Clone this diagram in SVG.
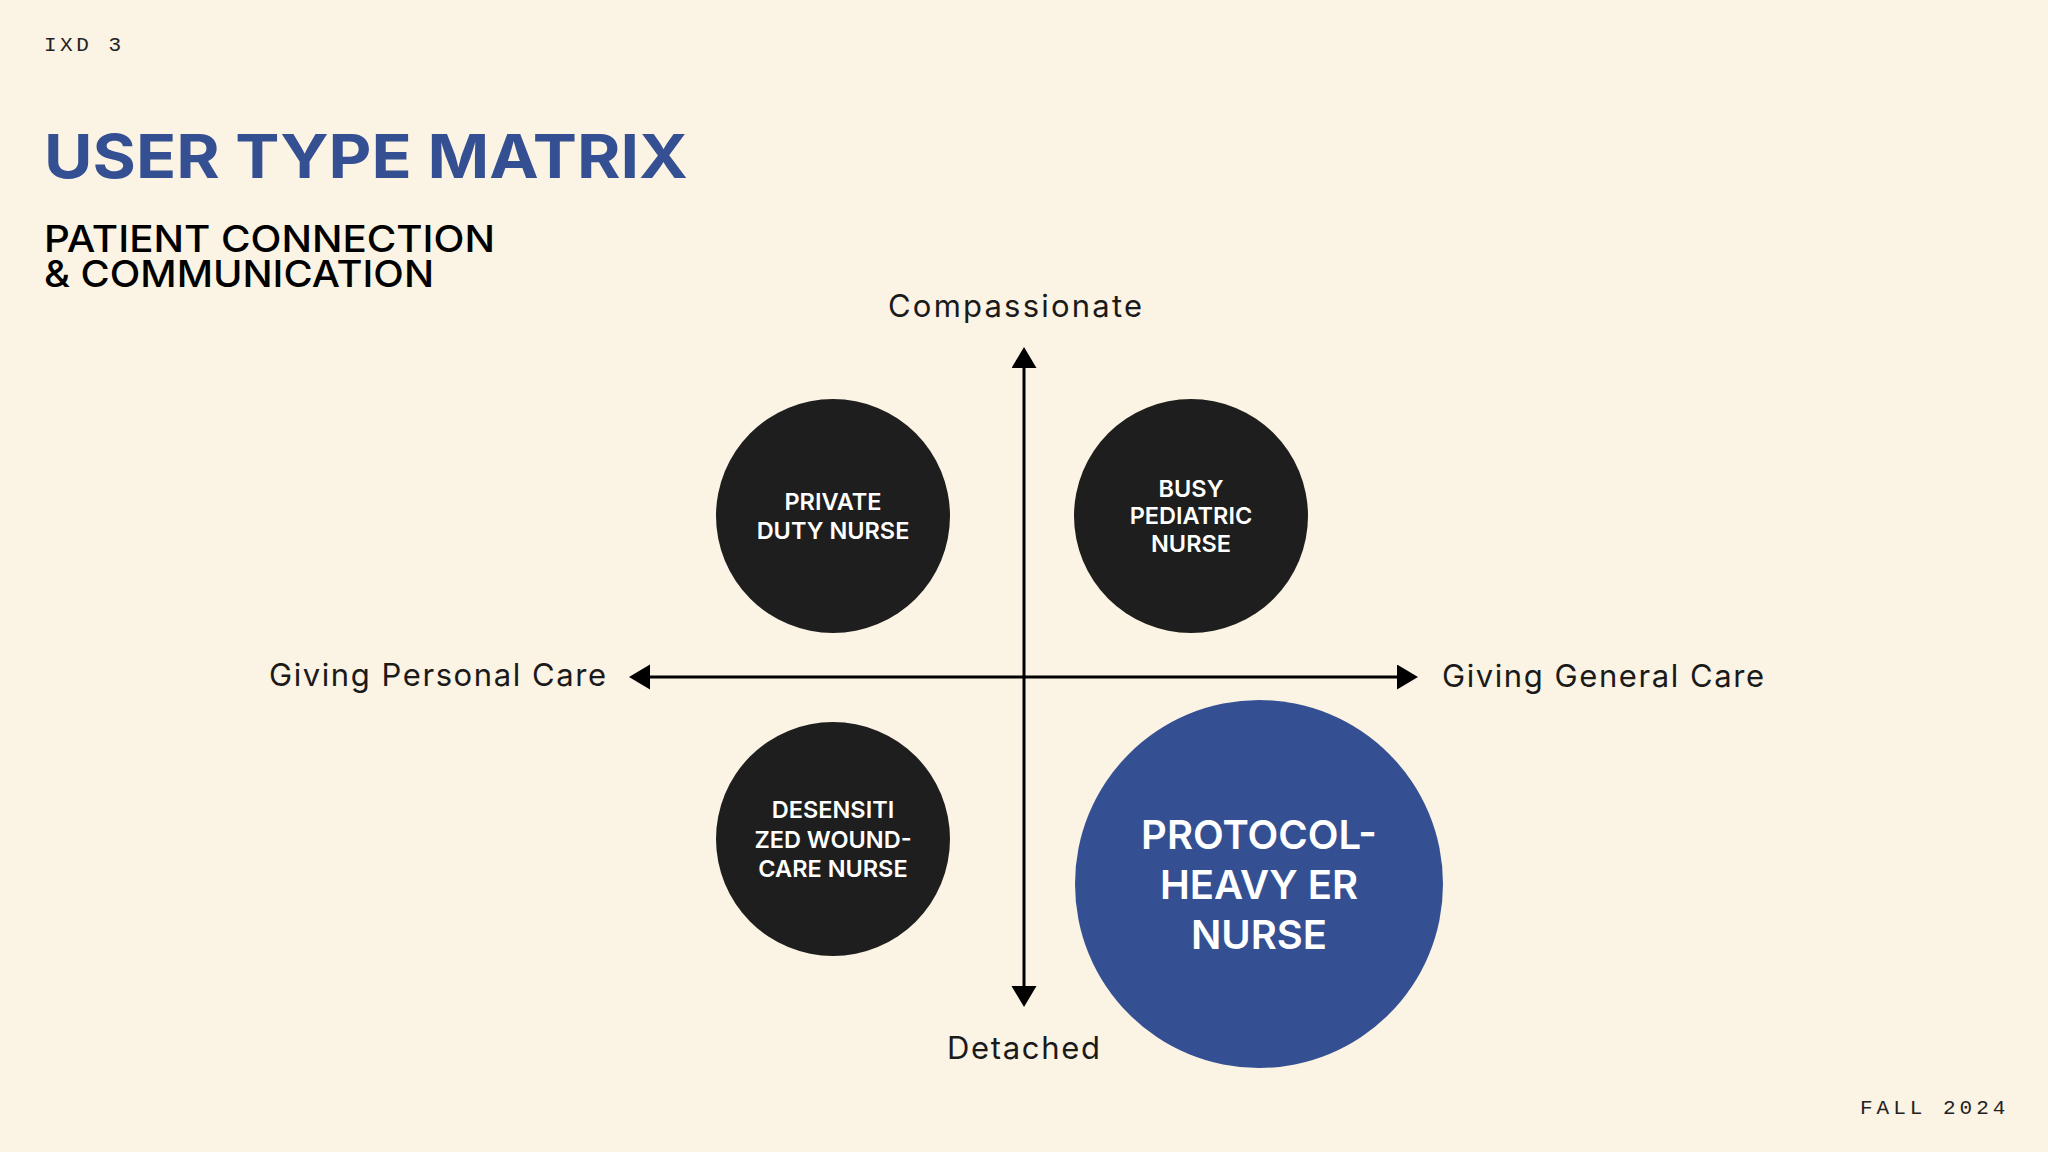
<svg xmlns="http://www.w3.org/2000/svg" width="2048" height="1152" viewBox="0 0 2048 1152">
<defs>
<marker id="arrow" markerUnits="userSpaceOnUse" markerWidth="22" markerHeight="26" refX="0" refY="12.5" orient="auto-start-reverse" viewBox="0 0 22 26">
<path d="M0,0 L21,12.5 L0,25 z" fill="#000"/>
</marker>
<style>
.mono{font-family:"Courier New","Liberation Mono",monospace;font-size:21px;fill:#222;}
.axis-label{font-family:Inter,"Noto Sans",sans-serif;font-size:31px;fill:#1a1a1a;}
.node-label{font-family:Inter,"Liberation Sans",sans-serif;font-weight:600;font-size:23.5px;fill:#fff;text-anchor:middle;}
.big-label{font-family:Inter,"Liberation Sans",sans-serif;font-weight:600;font-size:40px;fill:#fff;text-anchor:middle;}
.dark{fill:#1e1e1e;}
.blue{fill:#345093;}
.axis{stroke:#000;stroke-width:3;fill:none;}
</style>
</defs>
<rect x="0" y="0" width="2048" height="1152" fill="#FBF3E3"/>

<text class="mono" x="44" y="51" letter-spacing="3.5">IXD 3</text>
<text class="mono" x="1860" y="1114" letter-spacing="4">FALL 2024</text>

<text x="44" y="178" font-family="Inter,'Liberation Sans',sans-serif" font-weight="700" font-size="61" fill="#345093" textLength="644" lengthAdjust="spacingAndGlyphs">USER TYPE MATRIX</text>
<text x="44" y="252" font-family="Inter,'Liberation Sans',sans-serif" font-weight="500" font-size="37" fill="#000" textLength="451" lengthAdjust="spacingAndGlyphs">PATIENT CONNECTION</text>
<text x="44" y="287" font-family="Inter,'Liberation Sans',sans-serif" font-weight="500" font-size="37" fill="#000" textLength="390" lengthAdjust="spacingAndGlyphs">&amp; COMMUNICATION</text>

<g id="connectors">
<line class="axis" x1="1024" y1="368" x2="1024" y2="986" marker-start="url(#arrow)" marker-end="url(#arrow)"/>
<line class="axis" x1="650" y1="677" x2="1397" y2="677" marker-start="url(#arrow)" marker-end="url(#arrow)"/>
</g>

<g id="axis-labels">
<text class="axis-label" x="888" y="317" textLength="254">Compassionate</text>
<text class="axis-label" x="947" y="1059" textLength="153">Detached</text>
<text class="axis-label" x="269" y="686" textLength="337">Giving Personal Care</text>
<text class="axis-label" x="1442" y="687" textLength="322">Giving General Care</text>
</g>

<g id="node-private-duty">
<circle class="dark" cx="833" cy="516" r="117"/>
<text class="node-label" x="833" y="510">PRIVATE</text>
<text class="node-label" x="833" y="539">DUTY NURSE</text>
</g>

<g id="node-busy-pediatric">
<circle class="dark" cx="1191" cy="516" r="117"/>
<text class="node-label" x="1191" y="497">BUSY</text>
<text class="node-label" x="1191" y="524">PEDIATRIC</text>
<text class="node-label" x="1191" y="552">NURSE</text>
</g>

<g id="node-desensitized">
<circle class="dark" cx="833" cy="839" r="117"/>
<text class="node-label" x="833" y="818">DESENSITI</text>
<text class="node-label" x="833" y="848">ZED WOUND-</text>
<text class="node-label" x="833" y="877">CARE NURSE</text>
</g>

<g id="node-protocol-er">
<circle class="blue" cx="1259" cy="884" r="184"/>
<text class="big-label" x="1259" y="849">PROTOCOL-</text>
<text class="big-label" x="1259" y="899">HEAVY ER</text>
<text class="big-label" x="1259" y="949">NURSE</text>
</g>
</svg>
